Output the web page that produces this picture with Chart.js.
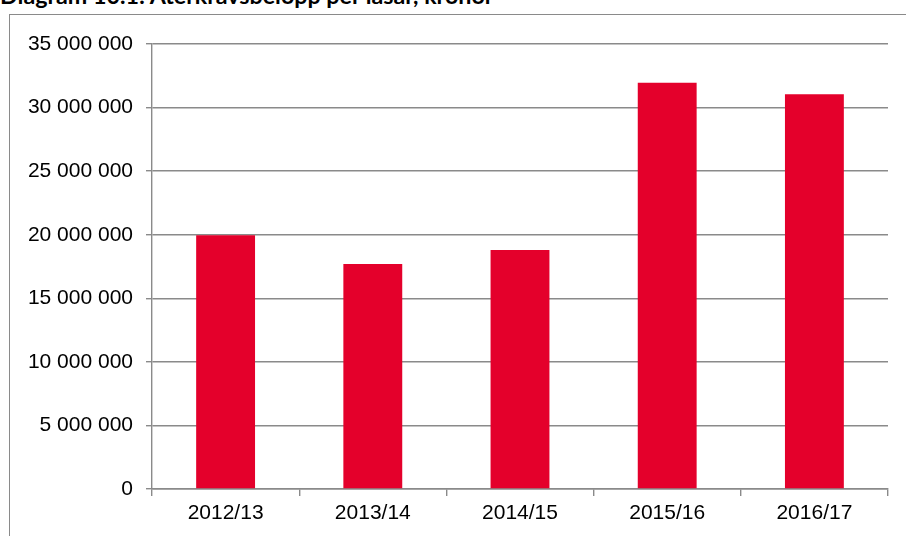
<!DOCTYPE html>
<html>
<head>
<meta charset="utf-8">
<script src="https://cdn.jsdelivr.net/npm/chart.js@4.4.1/dist/chart.umd.min.js"></script>
<style>
  html, body { margin: 0; padding: 0; background: #fff; overflow: hidden; }
  #wrap { position: relative; width: 906px; height: 536px; overflow: hidden; }
  #title { position: absolute; left: 0; top: -18px; line-height: 1.2; font-weight: bold; font-family: Lato, "Liberation Sans", sans-serif; font-size: 23px; color: #000; white-space: nowrap; }
  #box { position: absolute; left: 9px; top: 14px; width: 1000px; height: 1000px; border: 1.5px solid #8a8a8a; box-sizing: border-box; }
  canvas { position: absolute; left: 0; top: 0; }
</style>
</head>
<body>
<div id="wrap">
  <div id="title">Diagram 10.1: Återkravsbelopp per läsår, kronor</div>
  <div id="box"></div>
  <canvas id="c" width="906" height="536"></canvas>
</div>
<script>
const categories = ["2012/13", "2013/14", "2014/15", "2015/16", "2016/17"];
const amounts = [19950000, 17700000, 18800000, 31950000, 31050000];
const yTicks = [0, 5000000, 10000000, 15000000, 20000000, 25000000, 30000000, 35000000];

function fmt(v) {
  return String(Math.round(v)).replace(/\B(?=(\d{3})+(?!\d))/g, " ");
}

// fit the (cropped) title to its width in the reference, baseline near y=4.5
(function fitTitle() {
  const el = document.getElementById("title");
  const ctx = document.createElement("canvas").getContext("2d");
  ctx.font = "bold 20px Lato, 'Liberation Sans', sans-serif";
  const w20 = ctx.measureText(el.textContent).width;
  const fs = 20 * 495 / w20;
  el.style.fontSize = fs.toFixed(2) + "px";
  el.style.top = (4.5 - 0.987 * fs - 0.1 * fs * 0).toFixed(2) + "px";
})();

const gridColor = "#8a8a8a";
const tickFont = { family: "'Liberation Sans', Arial, sans-serif", size: 21 };

new Chart(document.getElementById("c"), {
  type: "bar",
  data: {
    labels: categories,
    datasets: [{
      data: amounts,
      backgroundColor: "#E4002B",
      borderWidth: 0,
      barPercentage: 0.4,
      categoryPercentage: 1.0
    }]
  },
  options: {
    responsive: false,
    animation: false,
    devicePixelRatio: 1,
    layout: { padding: { top: 44, right: 18, left: 0, bottom: 0 } },
    plugins: { legend: { display: false }, tooltip: { enabled: false }, title: { display: false } },
    scales: {
      y: {
        min: 0,
        max: yTicks[yTicks.length - 1],
        afterBuildTicks: (s) => { s.ticks = yTicks.map(v => ({ value: v })); },
        afterFit: (s) => { s.width = 152; },
        ticks: { color: "#000", font: tickFont, padding: 13, callback: (v) => fmt(v) },
        grid: { color: gridColor, lineWidth: 1.4, tickLength: 6, drawTicks: true },
        border: { display: true, color: gridColor, width: 1.4 }
      },
      x: {
        afterFit: (s) => { s.height = 536 - 489; },
        ticks: { color: "#000", font: tickFont, padding: 5, maxRotation: 0 },
        grid: { display: true, drawOnChartArea: false, drawTicks: true, tickLength: 7, offset: true, color: gridColor, lineWidth: 1.4 },
        border: { display: true, color: gridColor, width: 1.4 }
      }
    }
  }
});
</script>
</body>
</html>
